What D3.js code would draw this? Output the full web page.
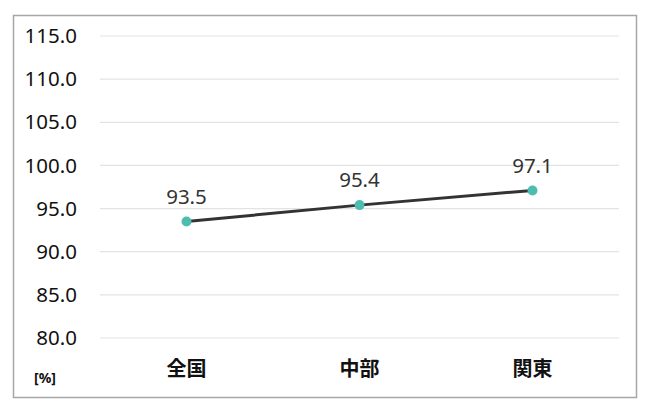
<!DOCTYPE html>
<html>
<head>
<meta charset="utf-8">
<script src="https://cdn.jsdelivr.net/npm/d3@7"></script>
<style>
  body { margin: 0; background: #fff; }
  svg { display: block; }
</style>
</head>
<body>
<div id="chart"></div>
<script>
const regions = ['全国', '中部', '関東'];
const rates = [93.5, 95.4, 97.1];
const yTicks = [80, 85, 90, 95, 100, 105, 110, 115];

const width = 650, height = 410;
const plot = { left: 100, right: 619, top: 36, bottom: 338 };

const svg = d3.select('#chart').append('svg')
    .attr('width', width)
    .attr('height', height);

// outer frame
svg.append('rect')
    .attr('x', 13.5).attr('y', 15.5)
    .attr('width', 623).attr('height', 382)
    .attr('fill', '#fff')
    .attr('stroke', '#a6a6a6')
    .attr('stroke-width', 1.5);

const x = d3.scaleBand().domain(regions).range([plot.left, plot.right]);
const y = d3.scaleLinear().domain([80, 115]).range([plot.bottom, plot.top]);

// gridlines
svg.append('g').selectAll('line')
    .data(yTicks)
    .enter().append('line')
    .attr('x1', plot.left).attr('x2', plot.right)
    .attr('y1', d => y(d)).attr('y2', d => y(d))
    .attr('stroke', '#e3e3e3')
    .attr('stroke-width', 1.2);

// y labels
svg.append('g').selectAll('text')
    .data(yTicks)
    .enter().append('text')
    .attr('x', 77)
    .attr('y', d => y(d))
    .attr('dy', '0.35em')
    .attr('text-anchor', 'end')
    .attr('fill', '#111')
    .style('font-family', '"Noto Sans", "Open Sans", sans-serif')
    .style('font-size', '20.5px')
    .text(d => d.toFixed(1));

// category labels
svg.append('g').selectAll('text')
    .data(regions)
    .enter().append('text')
    .attr('x', d => x(d) + x.bandwidth() / 2)
    .attr('y', 369)
    .attr('dy', '0.35em')
    .attr('text-anchor', 'middle')
    .attr('fill', '#111')
    .style('font-family', '"Noto Sans CJK JP", sans-serif')
    .style('font-weight', 'bold')
    .style('font-size', '20px')
    .text(d => d);

svg.append('text')
    .attr('x', 34).attr('y', 378)
    .attr('dy', '0.35em')
    .attr('fill', '#111')
    .style('font-family', '"Noto Sans", sans-serif')
    .style('font-weight', 'bold')
    .style('font-size', '14px')
    .text('[%]');

const pts = regions.map((r, i) => ({ r: r, v: rates[i] }));
const cx = d => x(d.r) + x.bandwidth() / 2;

svg.append('path')
    .datum(pts)
    .attr('fill', 'none')
    .attr('stroke', '#333')
    .attr('stroke-width', 3)
    .attr('d', d3.line().x(cx).y(d => y(d.v)));

svg.append('g').selectAll('circle')
    .data(pts)
    .enter().append('circle')
    .attr('cx', cx)
    .attr('cy', d => y(d.v))
    .attr('r', 5)
    .attr('fill', '#4dbdb1');

svg.append('g').selectAll('text')
    .data(pts)
    .enter().append('text')
    .attr('x', cx)
    .attr('y', d => y(d.v) - 25)
    .attr('dy', '0.35em')
    .attr('text-anchor', 'middle')
    .attr('fill', '#333')
    .style('font-family', '"Noto Sans", "Open Sans", sans-serif')
    .style('font-size', '20.5px')
    .text(d => d.v.toFixed(1));
</script>
</body>
</html>
